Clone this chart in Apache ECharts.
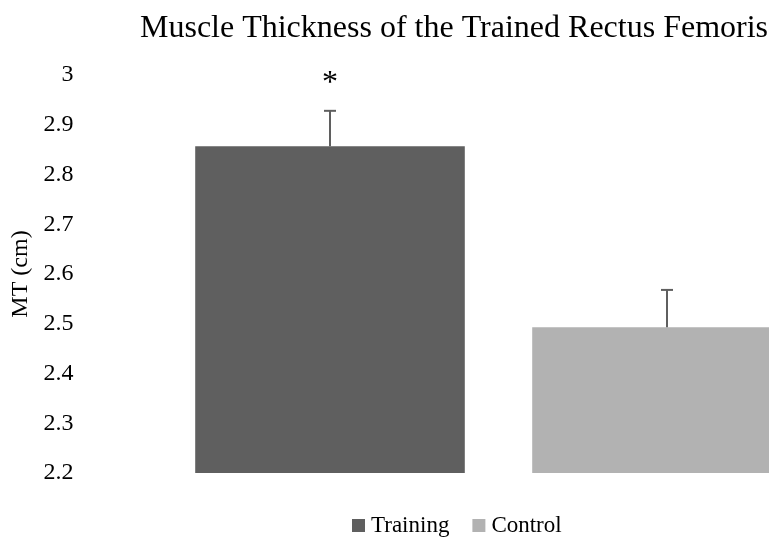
<!DOCTYPE html>
<html>
<head>
  <meta charset="utf-8">
  <script src="https://cdn.jsdelivr.net/npm/echarts@6/dist/echarts.min.js"></script>
</head>
<style>
  html, body {
    margin: 0;
    width: 100%;
    height: 100%;
    overflow: hidden;
  }
</style>
<body>
  <!-- plot runs past the right edge in the original, so the chart is wider than the window -->
  <div id="main" style="width: 836px;height:537px;"></div>
  <script>
    var categories = ['Training', 'Control'];
    var meanValues = [2.857, 2.493];
    var errorTops = [2.928, 2.568];
    var markText = ['*', ''];
    var markValues = [2.99, 2.99];
    var barColors = ['#5f5f5f', '#b2b2b2'];
    var yTicks = [2.2, 2.3, 2.4, 2.5, 2.6, 2.7, 2.8, 2.9, 3];

    var serif = "'Liberation Serif', 'Times New Roman', serif";
    var myChart = echarts.init(document.getElementById('main'));

    // one bar series per group so the legend shows both
    var barSeries = categories.map(function (name, i) {
      var data = categories.map(function (c, j) { return j === i ? meanValues[j] : '-'; });
      return {
        name: name,
        type: 'bar',
        stack: 'all',
        data: data,
        barWidth: '80%',
        itemStyle: { color: barColors[i] },
        emphasis: { disabled: true }
      };
    });

    // error bars (upper only) and the significance mark
    var errorSeries = {
      type: 'custom',
      name: 'err',
      silent: true,
      z: 10,
      data: categories.map(function (c, i) {
        return [i, meanValues[i], errorTops[i], markValues[i]];
      }),
      renderItem: function (params, api) {
        var i = api.value(0);
        var base = api.coord([i, api.value(1)]);
        var top = api.coord([i, api.value(2)]);
        var mark = api.coord([i, api.value(3)]);
        var capHalf = 6;
        var style = { stroke: '#5f5f5f', lineWidth: 2 };
        return {
          type: 'group',
          children: [
            { type: 'line', shape: { x1: base[0], y1: base[1], x2: top[0], y2: top[1] }, style: style },
            { type: 'line', shape: { x1: top[0] - capHalf, y1: top[1], x2: top[0] + capHalf, y2: top[1] }, style: style },
            {
              type: 'text',
              style: {
                text: markText[i], x: mark[0], y: mark[1] + 4,
                align: 'center', verticalAlign: 'middle',
                font: '32px ' + serif, fill: '#000'
              }
            }
          ]
        };
      }
    };

    var option = {
      animation: false,
      textStyle: { fontFamily: serif },
      title: {
        text: 'Muscle Thickness of the Trained Rectus Femoris',
        left: 449,
        textAlign: 'center',
        top: 8,
        textStyle: { fontFamily: serif, fontSize: 32, fontWeight: 'normal', color: '#000' }
      },
      legend: {
        data: categories,
        top: 509,
        left: 347,
        itemWidth: 13,
        itemHeight: 13,
        itemGap: 23,
        icon: 'rect',
        textStyle: { fontFamily: serif, fontSize: 23, color: '#000', padding: [0, 0, 0, 1] }
      },
      grid: { left: 161.5, right: 0.5, top: 75, bottom: 64 },
      xAxis: {
        type: 'category',
        data: categories,
        axisLine: { show: false },
        axisTick: { show: false },
        axisLabel: { show: false }
      },
      yAxis: {
        type: 'value',
        min: yTicks[0],
        max: yTicks[yTicks.length - 1],
        interval: 0.1,
        name: 'MT (cm)',
        nameLocation: 'middle',
        nameGap: 128,
        nameTextStyle: { fontFamily: serif, fontSize: 24, color: '#000' },
        axisLine: { show: false },
        axisTick: { show: false },
        splitLine: { show: false },
        axisLabel: {
          margin: 88,
          fontFamily: serif,
          fontSize: 24,
          color: '#000',
          formatter: function (v) { return String(Math.round(v * 10) / 10); }
        }
      },
      series: barSeries.concat([errorSeries])
    };

    myChart.setOption(option);
  </script>
</body>
</html>
